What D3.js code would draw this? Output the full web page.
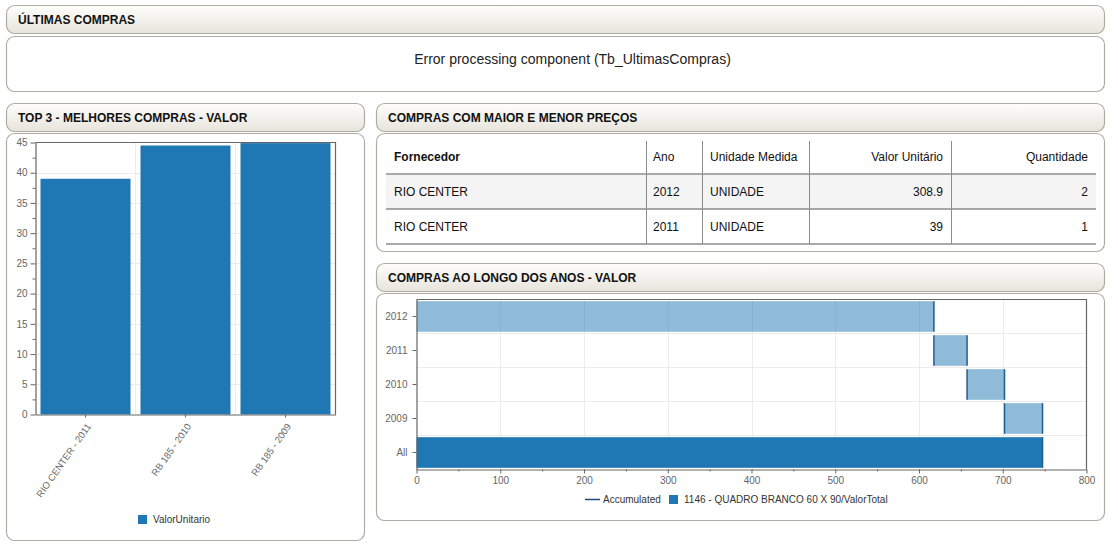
<!DOCTYPE html>
<html><head><meta charset="utf-8">
<script src="https://cdn.jsdelivr.net/npm/d3@7"></script>
<style>
html,body{margin:0;padding:0;background:#fff;}
svg{display:block;font-family:"Liberation Sans",Arial,sans-serif;}
</style></head><body>
<svg id="c" width="1118" height="548"></svg>
<script>
// ---------- data ----------
const barCategories = ["RIO CENTER - 2011", "RB 185 - 2010", "RB 185 - 2009"];
const barValues = [39, 44.5, 44.9];
const barTicks = [0, 5, 10, 15, 20, 25, 30, 35, 40, 45];
const barMinorTicks = [2.5, 7.5, 12.5, 17.5, 22.5, 27.5, 32.5, 37.5, 42.5];
const barSeriesName = "ValorUnitario";

const tableColumns = ["Fornecedor", "Ano", "Unidade Medida", "Valor Unitário", "Quantidade"];
const tableFornecedor = ["RIO CENTER", "RIO CENTER"];
const tableAno = ["2012", "2011"];
const tableUnidade = ["UNIDADE", "UNIDADE"];
const tableValorUnitario = ["308.9", "39"];
const tableQuantidade = ["2", "1"];

const waterfallCategories = ["2012", "2011", "2010", "2009"];
const waterfallValues = [617.8, 39.6, 44.7, 45.4];
const waterfallTotalLabel = "All";
const waterfallTicks = [0, 100, 200, 300, 400, 500, 600, 700, 800];
const waterfallMinorTicks = [50, 150, 250, 350, 450, 550, 650, 750];
const waterfallLegend = ["Accumulated", "1146 - QUADRO BRANCO 60 X 90/ValorTotal"];

const titles = ["ÚLTIMAS COMPRAS", "TOP 3 - MELHORES COMPRAS - VALOR", "COMPRAS COM MAIOR E MENOR PREÇOS", "COMPRAS AO LONGO DOS ANOS - VALOR"];
const errorText = "Error processing component (Tb_UltimasCompras)";

// ---------- setup ----------
const svg = d3.select("#c");
const defs = svg.append("defs");
const grad = defs.append("linearGradient").attr("id", "hdr").attr("x1", 0).attr("y1", 0).attr("x2", 0).attr("y2", 1);
grad.append("stop").attr("offset", "0%").attr("stop-color", "#fefefc");
grad.append("stop").attr("offset", "100%").attr("stop-color", "#e7e4db");

const BORDER = "#afada3";
function header(x, y, w, h, title) {
  svg.append("rect").attr("x", x + 0.5).attr("y", y + 0.5).attr("width", w).attr("height", h)
    .attr("rx", 8).attr("fill", "url(#hdr)").attr("stroke", BORDER).attr("stroke-width", 1.2);
  svg.append("text").attr("x", x + 12).attr("y", y + h / 2 + 0.5).attr("dy", "0.35em")
    .attr("font-size", 12).attr("font-weight", "bold").attr("fill", "#111").text(title);
}
function body(x, y, w, h) {
  svg.append("rect").attr("x", x + 0.5).attr("y", y + 0.5).attr("width", w).attr("height", h)
    .attr("rx", 8).attr("fill", "#fff").attr("stroke", BORDER).attr("stroke-width", 1.2);
}

// panels
header(6, 5, 1098, 28, titles[0]);
body(6, 36, 1098, 55);
svg.append("text").attr("x", 572.5).attr("y", 59).attr("dy", "0.35em").attr("text-anchor", "middle")
  .attr("font-size", 14).attr("fill", "#222").text(errorText);

header(6, 103, 358, 28, titles[1]);
body(6, 133, 358, 407);

header(376, 103, 728, 28, titles[2]);
body(376, 133, 728, 118);

header(376, 263, 728, 28, titles[3]);
body(376, 293, 728, 227);

// ---------- left bar chart ----------
const L = 35.5, R = 335.5, T = 142.5, B = 414.5;
const xb = d3.scaleBand().domain(barCategories).range([L, R]).paddingInner(0.1).paddingOuter(0.05);
const yb = d3.scaleLinear().domain([0, 45]).range([B, T]);
const gl = svg.append("g");

gl.selectAll(".hg").data(barTicks.filter(t => t > 0 && t < 45)).join("line")
  .attr("x1", L).attr("x2", R).attr("y1", d => Math.round(yb(d)) + 0.5).attr("y2", d => Math.round(yb(d)) + 0.5)
  .attr("stroke", "#ececec");
gl.selectAll(".vg").data(barCategories.slice(1)).join("line")
  .attr("x1", d => xb(d) - xb.step() * 0.05).attr("x2", d => xb(d) - xb.step() * 0.05)
  .attr("y1", T).attr("y2", B).attr("stroke", "#ececec");

gl.selectAll(".bar").data(barValues).join("rect")
  .attr("x", (d, i) => xb(barCategories[i])).attr("width", xb.bandwidth())
  .attr("y", d => yb(d)).attr("height", d => yb(0) - yb(d)).attr("fill", "#1f77b4");

// frame
gl.append("path").attr("d", `M${L},${T}H${R}V${B}`).attr("fill", "none").attr("stroke", "#666").attr("stroke-width", 1.2);

const yAx = gl.append("g").attr("transform", `translate(${L},0)`)
  .call(d3.axisLeft(yb).tickValues(barTicks).tickSize(5).tickSizeOuter(0).tickPadding(3));
gl.append("g").attr("transform", `translate(${L},0)`)
  .call(d3.axisLeft(yb).tickValues(barMinorTicks).tickSize(3).tickSizeOuter(0).tickFormat(""))
  .select(".domain").remove();

const xAx = gl.append("g").attr("transform", `translate(0,${B})`)
  .call(d3.axisBottom(xb).tickSize(3).tickSizeOuter(0));
xAx.selectAll(".tick text").remove();
xAx.selectAll(".tick").append("text")
  .attr("class", "rot")
  .attr("transform", "translate(6,12) rotate(-55)")
  .attr("text-anchor", "end")
  .text(d => d);

[yAx, xAx].forEach(a => {
  a.selectAll(".domain").attr("stroke", "#666").attr("stroke-width", 1.2);
  a.selectAll(".tick line").attr("stroke", "#666");
  a.selectAll("text").attr("fill", "#666").attr("font-size", 10).attr("font-family", "Liberation Sans, Arial, sans-serif");
});
xAx.selectAll("text.rot").attr("font-size", 9.5);
gl.selectAll("g.tick line").attr("stroke", "#666");

// legend
gl.append("rect").attr("x", 138).attr("y", 515).attr("width", 9).attr("height", 9).attr("fill", "#1f77b4");
gl.append("text").attr("x", 153).attr("y", 519.5).attr("dy", "0.35em").attr("font-size", 10).attr("fill", "#333").text(barSeriesName);

// ---------- table ----------
const gt = svg.append("g");
const tL = 386, tR = 1096;
const colLines = [646, 702, 809, 951];
const colX = [394, 653, 710, 943, 1088];
const colAnchor = ["start", "start", "start", "end", "end"];
const rowY = [157, 192, 227];
const tableRows = tableFornecedor.map((f, i) => [f, tableAno[i], tableUnidade[i], tableValorUnitario[i], tableQuantidade[i]]);

gt.append("rect").attr("x", tL).attr("y", 175).attr("width", tR - tL).attr("height", 34).attr("fill", "#f4f4f4");
gt.selectAll(".cl").data(colLines).join("line")
  .attr("x1", d => d + 0.5).attr("x2", d => d + 0.5).attr("y1", 141).attr("y2", 244)
  .attr("stroke", "#8c8c8c").attr("stroke-width", 1);
gt.selectAll(".rl").data([174, 209, 244]).join("line")
  .attr("x1", tL).attr("x2", tR).attr("y1", d => d).attr("y2", d => d)
  .attr("stroke", "#8c8c8c").attr("stroke-width", 1.6);

gt.selectAll(".th").data(tableColumns).join("text")
  .attr("x", (d, i) => colX[i]).attr("y", rowY[0]).attr("dy", "0.35em")
  .attr("text-anchor", (d, i) => colAnchor[i])
  .attr("font-size", 12).attr("font-weight", (d, i) => i === 0 ? "bold" : "normal")
  .attr("fill", "#111").text(d => d);
tableRows.forEach((row, r) => {
  gt.selectAll(".td" + r).data(row).join("text")
    .attr("x", (d, i) => colX[i]).attr("y", rowY[r + 1]).attr("dy", "0.35em")
    .attr("text-anchor", (d, i) => colAnchor[i])
    .attr("font-size", 12).attr("fill", "#111").text(d => d);
});

// ---------- waterfall ----------
const wL = 416.5, wR = 1086.5, wT = 299.5, wB = 469.5;
const allCats = [...waterfallCategories, waterfallTotalLabel];
const xw = d3.scaleLinear().domain([0, 800]).range([wL, wR]);
const yw = d3.scaleBand().domain(allCats).range([wT, wB]).paddingInner(0.1).paddingOuter(0.05);
const cum = Array.from(d3.cumsum(waterfallValues));
const starts = cum.map((c, i) => c - waterfallValues[i]);
const total = cum[cum.length - 1];
const gw = svg.append("g");

gw.selectAll(".vg").data(waterfallTicks.filter(t => t > 0 && t < 800)).join("line")
  .attr("x1", d => Math.round(xw(d)) + 0.5).attr("x2", d => Math.round(xw(d)) + 0.5)
  .attr("y1", wT).attr("y2", wB).attr("stroke", "#ececec");
gw.selectAll(".hg").data(allCats.slice(1)).join("line")
  .attr("y1", d => yw(d) - yw.step() * 0.05).attr("y2", d => yw(d) - yw.step() * 0.05)
  .attr("x1", wL).attr("x2", wR).attr("stroke", "#ececec");

const EDGE = "#1f5d8e";
gw.selectAll(".dbar").data(waterfallValues).join("rect")
  .attr("x", (d, i) => xw(starts[i])).attr("width", (d, i) => xw(cum[i]) - xw(starts[i]))
  .attr("y", (d, i) => yw(waterfallCategories[i])).attr("height", yw.bandwidth())
  .attr("fill", "#1f77b4").attr("fill-opacity", 0.5);
gw.append("rect").attr("x", xw(0)).attr("width", xw(total) - xw(0))
  .attr("y", yw(waterfallTotalLabel)).attr("height", yw.bandwidth()).attr("fill", "#1f77b4");

// accumulated edges
const edges = [];
waterfallValues.forEach((d, i) => {
  if (starts[i] > 0) edges.push({ x: starts[i], c: waterfallCategories[i] });
  edges.push({ x: cum[i], c: waterfallCategories[i] });
});
edges.push({ x: total, c: waterfallTotalLabel });
gw.selectAll(".edge").data(edges).join("line")
  .attr("x1", d => xw(d.x)).attr("x2", d => xw(d.x))
  .attr("y1", d => yw(d.c)).attr("y2", d => yw(d.c) + yw.bandwidth())
  .attr("stroke", EDGE).attr("stroke-width", 1.5);

gw.append("path").attr("d", `M${wL},${wT}H${wR}V${wB}`).attr("fill", "none").attr("stroke", "#666").attr("stroke-width", 1.2);

const wy = gw.append("g").attr("transform", `translate(${wL},0)`)
  .call(d3.axisLeft(yw).tickSize(4).tickSizeOuter(0).tickPadding(5));
const wx = gw.append("g").attr("transform", `translate(0,${wB})`)
  .call(d3.axisBottom(xw).tickValues(waterfallTicks).tickSize(4).tickSizeOuter(0).tickPadding(3));
gw.append("g").attr("transform", `translate(0,${wB})`)
  .call(d3.axisBottom(xw).tickValues(waterfallMinorTicks).tickSize(2).tickSizeOuter(0).tickFormat(""))
  .select(".domain").remove();
[wy, wx].forEach(a => {
  a.selectAll(".domain").attr("stroke", "#666").attr("stroke-width", 1.2);
  a.selectAll("text").attr("fill", "#666").attr("font-size", 10).attr("font-family", "Liberation Sans, Arial, sans-serif");
});
gw.selectAll("g.tick line").attr("stroke", "#666");

// legend
gw.append("line").attr("x1", 585).attr("x2", 600).attr("y1", 499.5).attr("y2", 499.5).attr("stroke", "#1f4a78").attr("stroke-width", 1.5);
gw.append("text").attr("x", 603).attr("y", 499).attr("dy", "0.35em").attr("font-size", 10).attr("fill", "#333").text(waterfallLegend[0]);
gw.append("rect").attr("x", 669).attr("y", 495).attr("width", 9).attr("height", 9).attr("fill", "#1f77b4");
gw.append("text").attr("x", 684).attr("y", 499).attr("dy", "0.35em").attr("font-size", 10).attr("fill", "#333").text(waterfallLegend[1]);
</script>
</body></html>
